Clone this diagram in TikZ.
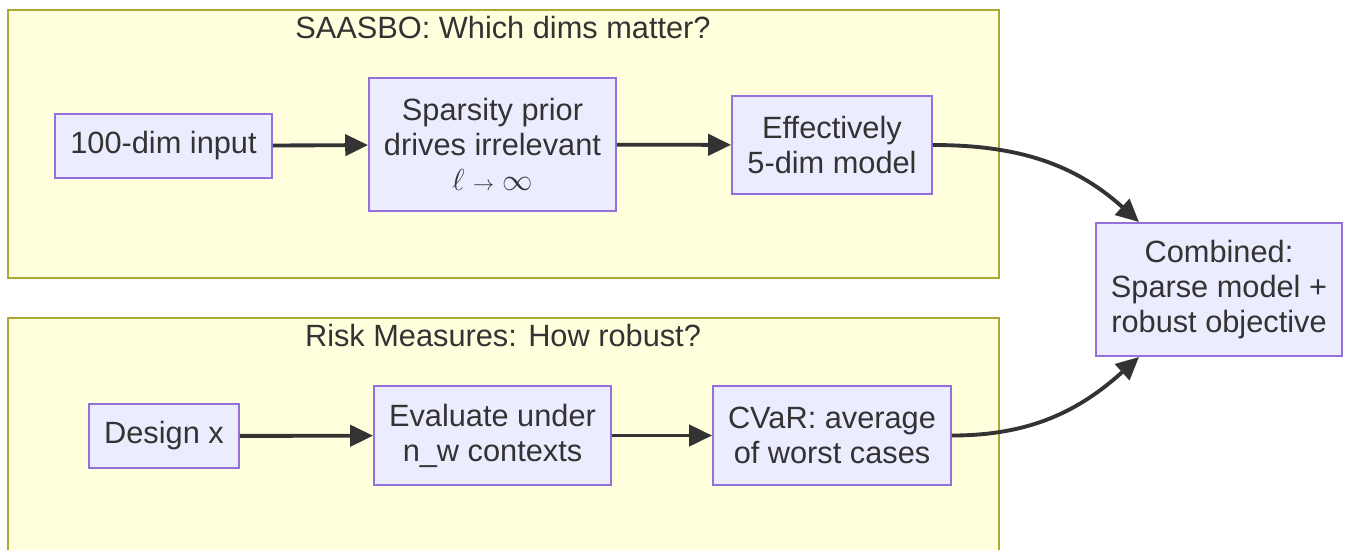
\documentclass[tikz,border=0pt]{standalone}
\usepackage{fontspec}
\setmainfont{Liberation Sans}
\usetikzlibrary{arrows.meta}
\definecolor{boxfill}{HTML}{ECECFF}
\definecolor{boxline}{HTML}{9370DB}
\definecolor{groupfill}{HTML}{FFFFDE}
\definecolor{groupline}{HTML}{AAAA33}
\definecolor{ink}{HTML}{333333}

\begin{document}
\begin{tikzpicture}[x=0.02cm, y=-0.02cm,
		box/.style={draw=boxline, fill=boxfill, line width=1.1pt, align=center, text=ink,
			inner sep=0pt, font=\fontsize{17.5}{20}\selectfont},
		group/.style={draw=groupline, fill=groupfill, line width=1.1pt},
		title/.style={text=ink, font=\fontsize{17.5}{20}\selectfont},
		flow/.style={draw=ink, line width=2.2pt, -{Triangle[length=13pt,width=12pt]}}]
		%%%%% START %%%%%
		
		\useasboundingbox (0, 0) rectangle (1348, 549);
		\clip (0, 0) rectangle (1348, 549);
		
		% the two groups
		\draw[group] (8, 10) rectangle (999, 278);
		\node[title] (saasbo) at (503, 28) {SAASBO: Which dims matter?};
		
		\draw[group] (8, 318) rectangle (999, 620);
		\node[title] (risk) at (503, 335) {Risk Measures: How robust?};
		
		% upper row
		\node[box, minimum width=4.34cm, minimum height=1.28cm] (input) at (163.5, 146) {100-dim input};
		\node[box, minimum width=4.94cm, minimum height=2.66cm] (sparse) at (492.5, 144.5)
			{Sparsity prior\\drives irrelevant\\$\ell\;{\scriptstyle\rightarrow}\;\infty$};
		\node[box, minimum width=4.0cm, minimum height=1.96cm] (effective) at (832, 145)
			{Effectively\\5-dim model};
		
		% lower row
		\node[box, minimum width=3.0cm, minimum height=1.28cm] (design) at (164, 436) {Design x};
		\node[box, minimum width=4.74cm, minimum height=1.98cm] (evaluate) at (492.5, 435.5)
			{Evaluate under\\n\_w contexts};
		\node[box, minimum width=4.76cm, minimum height=1.98cm] (cvar) at (832, 435.5)
			{CVaR: average\\of worst cases};
		
		\node[box, minimum width=4.92cm, minimum height=2.66cm] (combined) at (1219, 289.5)
			{Combined:\\Sparse model +\\robust objective};
		
		\draw[flow] (input) -- (sparse);
		\draw[flow] (sparse) -- (effective);
		\draw[flow] (design) -- (evaluate);
		\draw[flow] (evaluate) -- (cvar);
		
		\draw[flow] (effective.east) to[out=0, in=138] ([xshift=0.88cm]combined.north west);
		\draw[flow] (cvar.east) to[out=0, in=-138] ([xshift=0.88cm]combined.south west);
		
		%%%%% END %%%%%
\end{tikzpicture}
\end{document}
